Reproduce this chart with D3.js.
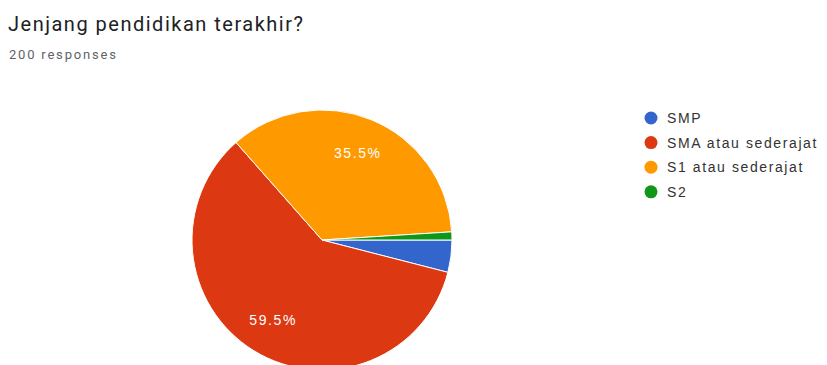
<!DOCTYPE html>
<html>
<head>
<meta charset="utf-8">
<script src="https://cdn.jsdelivr.net/npm/d3@7/dist/d3.min.js"></script>
<style>
  html, body { margin: 0; padding: 0; background: #fff; }
  svg { display: block; }
</style>
</head>
<body>
<svg id="chart" width="827" height="365"></svg>
<script>
// Survey answers: last completed education level (200 responses)
const categories = ["SMP", "SMA atau sederajat", "S1 atau sederajat", "S2"];
const counts = [8, 119, 71, 2];
const colors = ["#3366cc", "#dc3912", "#ff9900", "#109618"];
const title = "Jenjang pendidikan terakhir?";
const subtitle = "200 responses";

const svg = d3.select("#chart");
const total = d3.sum(counts);

svg.append("text")
  .attr("x", 8).attr("y", 31)
  .attr("font-family", "Roboto, 'Open Sans', sans-serif")
  .attr("font-size", 20)
  .attr("letter-spacing", 1.5)
  .attr("fill", "#202124")
  .text(title);

svg.append("text")
  .attr("x", 9).attr("y", 59)
  .attr("font-family", "Roboto, 'Open Sans', sans-serif")
  .attr("font-size", 13)
  .attr("letter-spacing", 1.8)
  .attr("fill", "#5f6368")
  .text(subtitle);

// Pie starts at 3 o'clock and runs clockwise in data order
const cx = 322, cy = 240, r = 130;
const pie = d3.pie().sort(null)
  .startAngle(Math.PI / 2).endAngle(Math.PI / 2 + 2 * Math.PI);
const arcs = pie(counts);
const arc = d3.arc().innerRadius(0).outerRadius(r);
const labelArc = d3.arc().innerRadius(r * 0.72).outerRadius(r * 0.72);

const g = svg.append("g").attr("transform", `translate(${cx},${cy})`);
g.selectAll("path").data(arcs).join("path")
  .attr("d", arc)
  .attr("fill", (d, i) => colors[i])
  .attr("stroke", "#fff")
  .attr("stroke-width", 1);

// Percent labels only on slices large enough to hold them
g.selectAll("text.pct").data(arcs.filter(d => d.value / total > 0.05)).join("text")
  .attr("class", "pct")
  .attr("transform", d => `translate(${labelArc.centroid(d)})`)
  .attr("text-anchor", "middle")
  .attr("dy", "0.35em")
  .attr("font-family", "Arial, 'Liberation Sans', sans-serif")
  .attr("font-size", 14)
  .attr("letter-spacing", 1.6)
  .attr("fill", "#fff")
  .text(d => (d.value / total * 100).toFixed(1) + "%");

// Legend
const legend = svg.append("g").attr("transform", "translate(651,118)");
const items = legend.selectAll("g").data(categories).join("g")
  .attr("transform", (d, i) => `translate(0,${i * 24.6})`);
items.append("circle").attr("r", 6.5).attr("fill", (d, i) => colors[i]);
items.append("text")
  .attr("x", 16).attr("dy", "0.35em")
  .attr("font-family", "Arial, 'Liberation Sans', sans-serif")
  .attr("font-size", 14)
  .attr("letter-spacing", 1.6)
  .attr("fill", "#333")
  .text(d => d);
</script>
</body>
</html>
